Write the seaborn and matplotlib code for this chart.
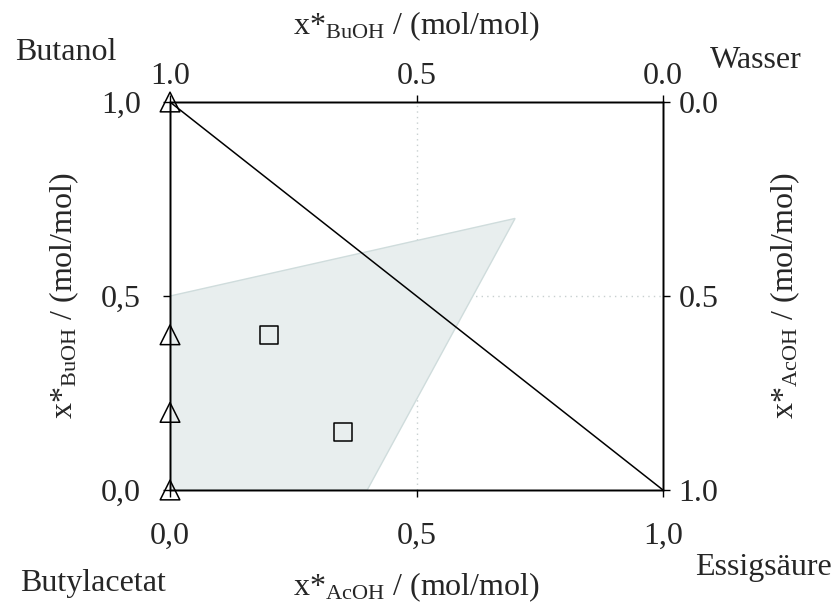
import matplotlib
matplotlib.use("Agg")
import matplotlib.pyplot as plt
import seaborn as sns

# Ternary-like composition diagram data
region_x = [0.0, 0.0, 0.7, 0.4]
region_y = [0.0, 0.5, 0.7, 0.0]

pure_x = [0.0, 0.0, 0.0, 0.0]
pure_y = [0.0, 0.2, 0.4, 1.0]

mix_x = [0.2, 0.35]
mix_y = [0.4, 0.15]

diag_x = [0.0, 1.0]
diag_y = [1.0, 0.0]

ticks = [0.0, 0.5, 1.0]
bottom_labels = ["0,0", "0,5", "1,0"]
left_labels = ["0,0", "0,5", "1,0"]
top_labels = ["1.0", "0.5", "0.0"]
right_labels = ["1.0", "0.5", "0.0"]

sns.set_theme(style="white")
plt.rcParams["font.family"] = ["Liberation Serif", "DejaVu Serif"]
plt.rcParams["mathtext.fontset"] = "custom"
plt.rcParams["mathtext.rm"] = "Liberation Serif"
plt.rcParams["mathtext.it"] = "Liberation Serif:italic"

FS = 23

fig = plt.figure(figsize=(8.4, 6.04), dpi=100)
ax = fig.add_axes([0.2024, 0.1887, 0.5869, 0.6424])
ax.set_xlim(0, 1)
ax.set_ylim(0, 1)

# dotted grid at the mid ticks
ax.axvline(0.5, color="#c8d0d0", lw=1, ls=(0, (1, 3)), zorder=0)
ax.axhline(0.5, color="#c8d0d0", lw=1, ls=(0, (1, 3)), zorder=0)

# shaded region
ax.fill(region_x, region_y, facecolor="#e8eeee", edgecolor="#cfdcdc", lw=1, zorder=1)

# diagonal
sns.lineplot(x=diag_x, y=diag_y, ax=ax, color="black", lw=1.1, zorder=3)

# markers
sns.scatterplot(x=pure_x, y=pure_y, ax=ax, marker="^", s=200, facecolor="none",
                edgecolor="black", linewidth=1.1, zorder=4, clip_on=False)
sns.scatterplot(x=mix_x, y=mix_y, ax=ax, marker="s", s=170, facecolor="none",
                edgecolor="black", linewidth=1.1, zorder=4, clip_on=False)

ax.set_xticks(ticks)
ax.set_xticklabels(bottom_labels)
ax.set_yticks(ticks)
ax.set_yticklabels(left_labels)
ax.tick_params(axis="both", direction="out", length=5, width=1, color="black",
               labelsize=FS, left=True, bottom=True)
ax.tick_params(axis="x", pad=18)
ax.tick_params(axis="y", pad=16)
ax.set_xlabel(r"x*$_{\mathrm{AcOH}}$ / (mol/mol)", fontsize=FS, labelpad=14)
ax.set_ylabel(r"x*$_{\mathrm{BuOH}}$ / (mol/mol)", fontsize=FS, labelpad=14)
for s in ax.spines.values():
    s.set_color("black")
    s.set_linewidth(1)

axt = ax.twiny()
axt.set_xlim(0, 1)
axt.set_xticks(ticks)
axt.set_xticklabels(top_labels)
axt.tick_params(axis="x", direction="out", length=5, width=1, color="black",
                labelsize=FS, pad=3, top=True)
axt.set_xlabel(r"x*$_{\mathrm{BuOH}}$ / (mol/mol)", fontsize=FS, labelpad=20)

axr = ax.twinx()
axr.set_ylim(0, 1)
axr.set_yticks(ticks)
axr.set_yticklabels(right_labels)
axr.tick_params(axis="y", direction="out", length=5, width=1, color="black",
                labelsize=FS, pad=6, right=True)
axr.set_ylabel(r"x*$_{\mathrm{AcOH}}$ / (mol/mol)", fontsize=FS, labelpad=36)
for a in (axt, axr):
    for s in a.spines.values():
        s.set_color("black")
        s.set_linewidth(1)

# corner component names
fig.text(15 / 840, 1 - 52 / 604, "Butanol", fontsize=FS, va="center", ha="left")
fig.text(710 / 840, 1 - 60 / 604, "Wasser", fontsize=FS, va="center", ha="left")
fig.text(20 / 840, 1 - 584 / 604, "Butylacetat", fontsize=FS, va="center", ha="left")
fig.text(695 / 840, 1 - 568 / 604, "Essigsäure", fontsize=FS, va="center", ha="left")

fig.savefig("out.png", dpi=100)
